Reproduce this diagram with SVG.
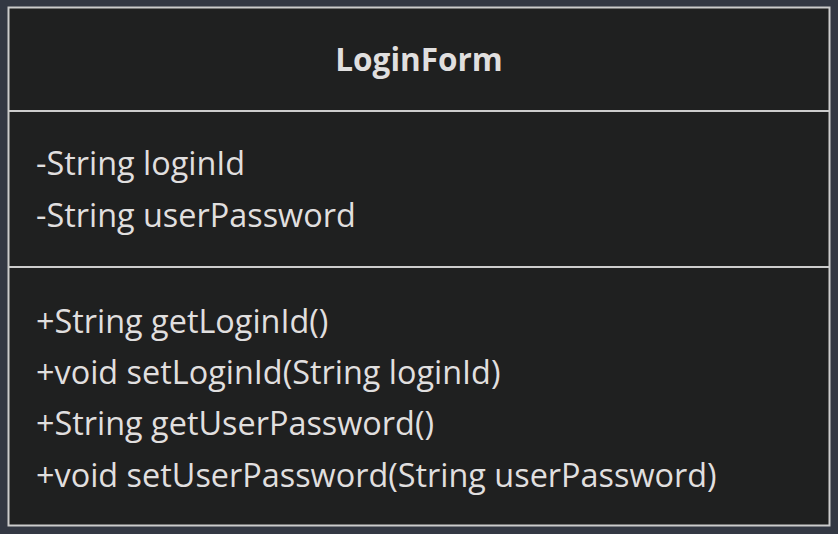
<svg xmlns="http://www.w3.org/2000/svg" width="838" height="534" viewBox="0 0 838 534">
<style>
.t{font-family:"Open Sans","DejaVu Sans",sans-serif;font-size:32.4px;fill:#e0dfdf}
.h{font-weight:bold;text-anchor:middle;font-size:31.5px}
.ln{stroke:#cccccc;stroke-width:2;fill:none}
</style>
<rect width="838" height="534" fill="#333843"/>
<g id="LoginForm">
<rect x="8.5" y="7.5" width="821" height="518" fill="#1f2020" stroke="#cccccc" stroke-width="2"/>
<line class="ln" x1="8.5" y1="111" x2="829.5" y2="111"/>
<line class="ln" x1="8.5" y1="267" x2="829.5" y2="267"/>
<text class="t h" x="419" y="71">LoginForm</text>
<text class="t" x="36" y="175">-String loginId</text>
<text class="t" x="36" y="227">-String userPassword</text>
<text class="t" x="36" y="333">+String getLoginId()</text>
<text class="t" x="36" y="384">+void setLoginId(String loginId)</text>
<text class="t" x="36" y="435">+String getUserPassword()</text>
<text class="t" x="36" y="487">+void setUserPassword(String userPassword)</text>
</g>
<g id="connectors"/>
</svg>
